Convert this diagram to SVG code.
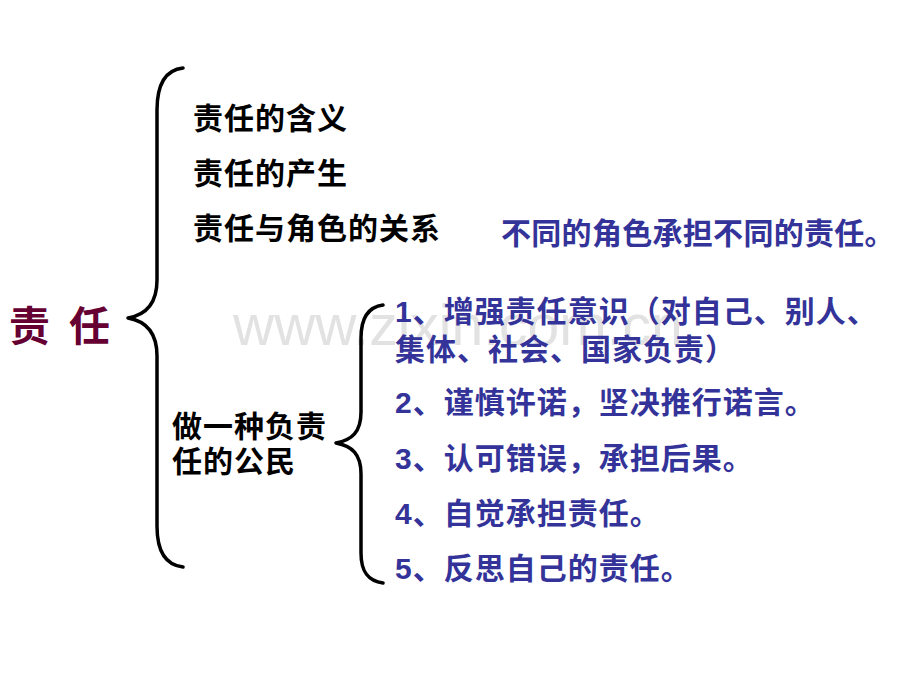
<svg xmlns="http://www.w3.org/2000/svg" width="920" height="690" viewBox="0 0 920 690">
<style>
text{font-family:"Liberation Sans","Noto Sans CJK SC",sans-serif;font-weight:bold;font-size:30px;letter-spacing:1px}
.k{fill:#000}
.b{fill:#333399}
.root{fill:#660033;font-size:41px;letter-spacing:0}
.wm{fill:#e2e2e2;font-weight:normal;font-size:57px;letter-spacing:0}
.br{fill:none;stroke:#000;stroke-width:3.5;stroke-linecap:round;stroke-linejoin:round}
</style>
<rect width="920" height="690" fill="#fff"/>
<text class="wm" x="233" y="345">www.zixin.com.cn</text>
<g id="connectors">
<path class="br" d="M183,68 C165,70 157,85 157,110 L157,280 C157,305 145,315 128,318 C145,321 157,331 157,356 L157,526 C157,551 165,565 183,567"/>
<path class="br" d="M383,305 C368,307 361,318 361,338 L361,412 C361,432 352,440 336,443 C352,446 361,454 361,474 L361,553 C361,572 368,581 383,583"/>
</g>
<g id="root"><text class="root" x="9" y="341">责<tspan x="69">任</tspan></text></g>
<g id="n-meaning"><text class="k" x="193" y="129">责任的含义</text></g>
<g id="n-origin"><text class="k" x="193" y="184">责任的产生</text></g>
<g id="n-role"><text class="k" x="193" y="239">责任与角色的关系</text></g>
<g id="n-role-note"><text class="b" x="501" y="244" style="letter-spacing:0.3px">不同的角色承担不同的责任。</text></g>
<g id="n-citizen"><text class="k" x="172" y="437">做一种负责</text><text class="k" x="172" y="472">任的公民</text></g>
<g id="n-1"><text class="b" x="395" y="322">1、增强责任意识（对自己、别人、</text><text class="b" x="395" y="360">集体、社会、国家负责）</text></g>
<g id="n-2"><text class="b" x="395" y="413">2、谨慎许诺，坚决推行诺言。</text></g>
<g id="n-3"><text class="b" x="395" y="469">3、认可错误，承担后果。</text></g>
<g id="n-4"><text class="b" x="395" y="524">4、自觉承担责任。</text></g>
<g id="n-5"><text class="b" x="395" y="579">5、反思自己的责任。</text></g>
</svg>
